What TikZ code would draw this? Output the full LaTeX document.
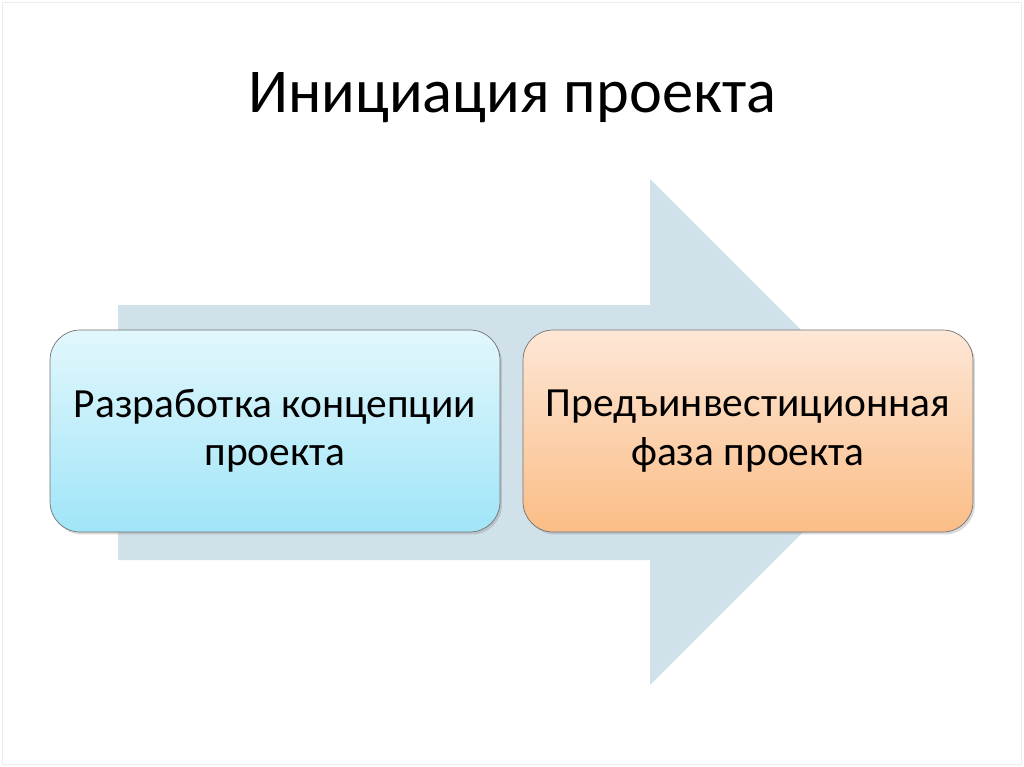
\documentclass[tikz,border=0pt]{standalone}
\usepackage{fontspec}
\setmainfont{Carlito}
\usetikzlibrary{shadows}

\definecolor{arrowfill}{HTML}{D0E1E9}
\definecolor{bluetop}{HTML}{E2F7FC}
\definecolor{bluebot}{HTML}{A0E5F8}
\definecolor{orangetop}{HTML}{FDE7D6}
\definecolor{orangebot}{HTML}{FBBD86}

\tikzset{
  phase/.style={draw=black!55,rounded corners=0.6cm,minimum width=9cm,
    minimum height=4.04cm,align=center,inner sep=0pt,
    font=\fontsize{23.6}{27.5}\selectfont,
    drop shadow={shadow xshift=0.04cm,shadow yshift=-0.05cm,opacity=0.3}},
  bluebox/.style={phase,top color=bluetop,bottom color=bluebot},
  orangebox/.style={phase,top color=orangetop,bottom color=orangebot}
}

\begin{document}
\begin{tikzpicture}[x=0.02cm,y=-0.02cm]
\useasboundingbox (0,0) rectangle (1024,767);
\draw[black!7] (2,2) rectangle (1021,764);
\node (title) at (512,98) {\fontsize{35.5}{42}\selectfont Инициация проекта};
% big arrow behind the boxes
\fill[arrowfill] (118,305) -- (650,305) -- (650,179) -- (903,432)
  -- (650,685) -- (650,560) -- (118,560) -- cycle;
\node[bluebox] (concept) at (275,431) {Разработка концепции\\проекта};
\node[orangebox] (preinv) at (748,431) {Предъинвестиционная\\фаза проекта};
\end{tikzpicture}
\end{document}
